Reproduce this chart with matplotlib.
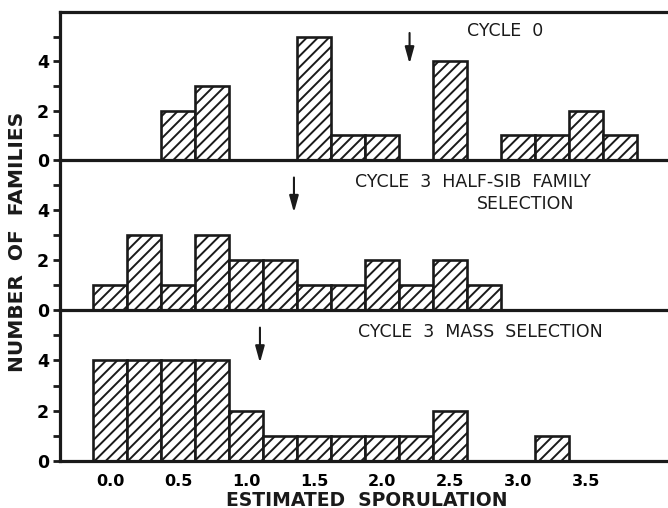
import matplotlib
matplotlib.use("Agg")
import matplotlib.pyplot as plt
import numpy as np

# bin centres (estimated sporulation), bins are 0.25 wide
bins = [0.0, 0.25, 0.5, 0.75, 1.0, 1.25, 1.5, 1.75, 2.0, 2.25, 2.5, 2.75, 3.0, 3.25, 3.5, 3.75]

cycle0 = [0, 0, 2, 3, 0, 0, 5, 1, 1, 0, 4, 0, 1, 1, 2, 1]
halfsib = [1, 3, 1, 3, 2, 2, 1, 1, 2, 1, 2, 1, 0, 0, 0, 0]
mass = [4, 4, 4, 4, 2, 1, 1, 1, 1, 1, 2, 0, 0, 1, 0, 0]

# population means marked with arrows
means = [2.2, 1.35, 1.1]

titles = ["CYCLE  0", "CYCLE  3  HALF-SIB  FAMILY", "CYCLE  3  MASS  SELECTION"]
x_ticks = [0.0, 0.5, 1.0, 1.5, 2.0, 2.5, 3.0, 3.5]

INK = "#1a1a1a"

plt.rcParams["font.family"] = ["DejaVu Sans"]
plt.rcParams["hatch.linewidth"] = 1.4
plt.rcParams["hatch.color"] = INK

W, H = 668, 508
fig = plt.figure(figsize=(W / 100, H / 100), dpi=100)

# panel pixel extents (top, bottom)
panels = [(12, 160), (160, 310), (310, 461)]
left_px = 60
title_pos = [(467, 31), (355, 182), (358, 332)]
arrow_top = [5.15, 5.3, 5.3]

series = [cycle0, halfsib, mass]
for i, ((t, b), vals) in enumerate(zip(panels, series)):
    ax = fig.add_axes([left_px / W, 1 - b / H, 1 - left_px / W, (b - t) / H])
    ax.patch.set_visible(False)
    ax.bar(bins, vals, width=0.25, facecolor="white", edgecolor=INK,
           linewidth=1.9, hatch="///", zorder=2)
    ax.set_xlim(-0.37, 4.1)
    ax.set_ylim(0, 6)
    ax.set_yticks([0, 2, 4])
    ax.set_yticks([1, 3, 5], minor=True)
    ax.tick_params(axis="y", which="both", direction="out", length=5, width=2,
                   labelsize=12.5, pad=3, color=INK)
    for lab in ax.get_yticklabels():
        lab.set_fontweight("bold")
    ax.spines["right"].set_visible(False)
    ax.spines["top"].set_visible(i == 0)
    for s in ["left", "bottom", "top"]:
        ax.spines[s].set_linewidth(2.3)
        ax.spines[s].set_color(INK)
        ax.spines[s].set_zorder(5)
    ax.annotate("", xy=(means[i], 3.9), xytext=(means[i], arrow_top[i]),
                arrowprops=dict(arrowstyle="-|>,head_width=0.25,head_length=0.9",
                                color=INK, lw=1.5, mutation_scale=11,
                                shrinkA=0, shrinkB=0))
    tx, ty = title_pos[i]
    fig.text(tx / W, 1 - ty / H, titles[i], fontsize=12.5, color=INK,
             ha="left", va="center")
    if i < 2:
        ax.set_xticks([])
    else:
        ax.set_xticks(x_ticks)
        ax.set_xticklabels([f"{v:.1f}" for v in x_ticks], fontweight="bold")
        ax.tick_params(axis="x", length=0, labelsize=11.5, pad=9)

fig.text(477 / W, 1 - 204 / H, "SELECTION", fontsize=12.5, color=INK,
         ha="left", va="center")
fig.text(18 / W, 1 - 242 / H, "NUMBER  OF  FAMILIES", rotation=90, fontsize=14.5,
         fontweight="bold", ha="center", va="center", color=INK)
fig.text(367 / W, 1 - 500 / H, "ESTIMATED  SPORULATION", fontsize=13.5,
         fontweight="bold", ha="center", va="center", color=INK)

fig.savefig("out.png", dpi=100)
